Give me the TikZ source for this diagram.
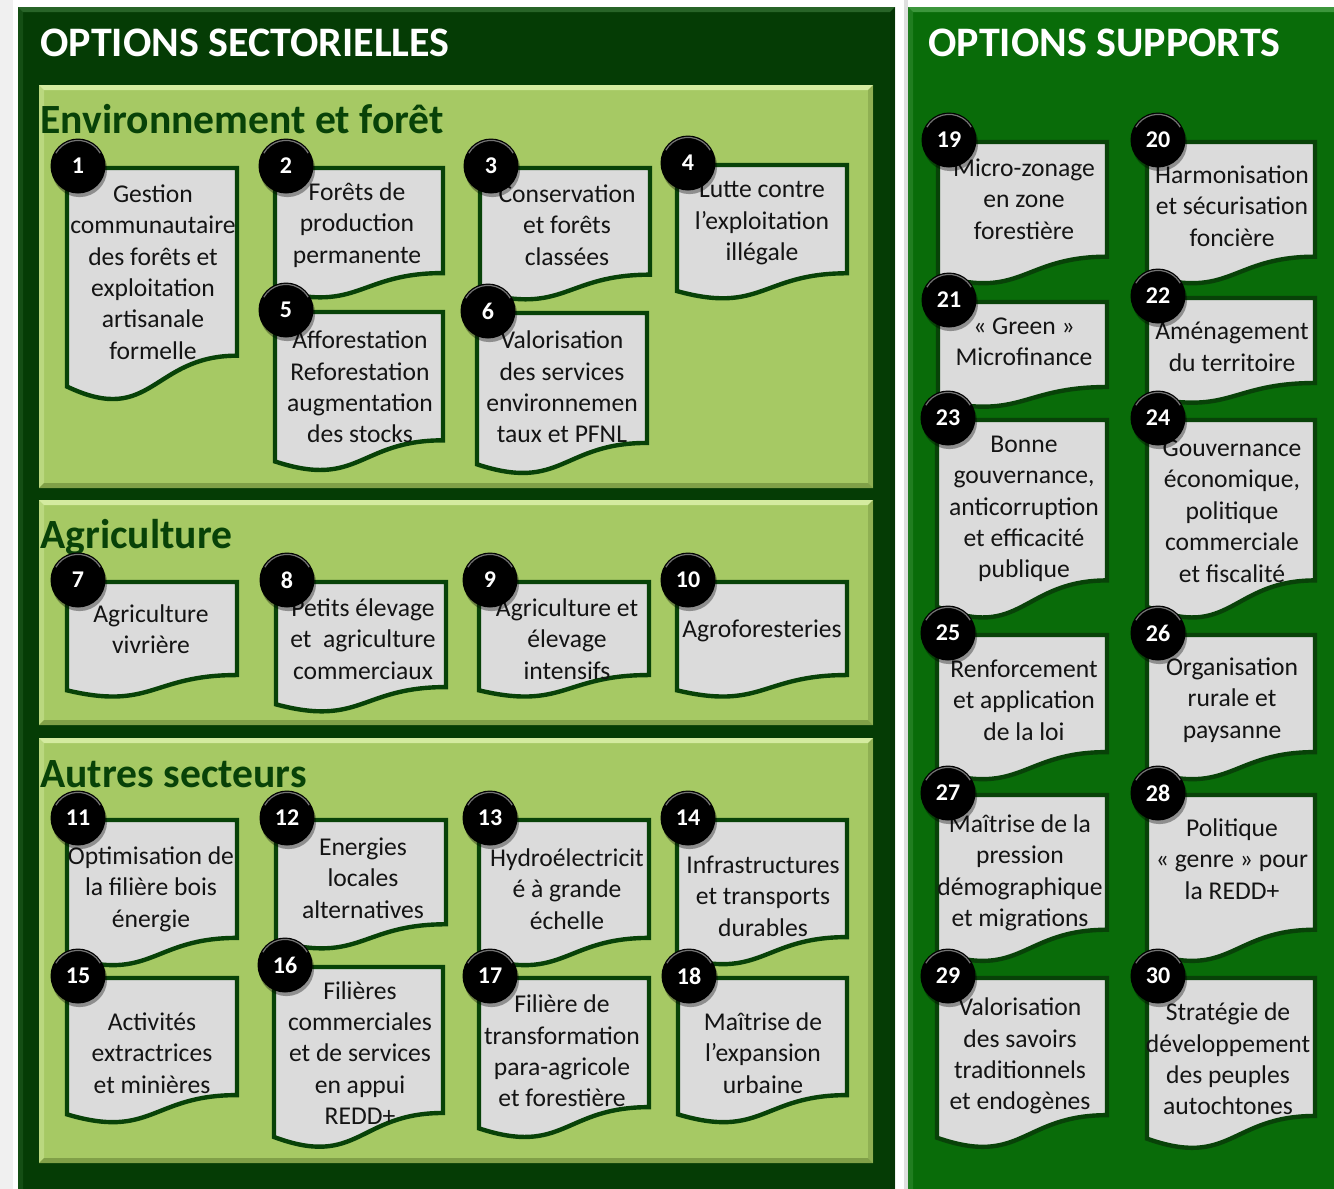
\documentclass[tikz,border=0pt]{standalone}
\usepackage{fontspec}
\setmainfont{Carlito}
\usetikzlibrary{calc}
\definecolor{darkpanel}{RGB}{5,60,5}
\definecolor{darkpanelhi}{RGB}{40,100,40}
\definecolor{greenpanel}{RGB}{9,108,9}
\definecolor{greenpanelhi}{RGB}{60,150,60}
\definecolor{lightpanel}{RGB}{166,201,100}
\definecolor{lightpanelhi}{RGB}{212,235,160}
\definecolor{lightpanello}{RGB}{128,160,72}
\definecolor{docfill}{RGB}{219,219,219}
\definecolor{docline}{RGB}{8,66,8}
\definecolor{titlegreen}{RGB}{8,66,8}
\definecolor{doctextcol}{RGB}{20,20,20}
\tikzset{
  docshape/.style={fill=docfill, draw=docline, line width=2.2pt, line join=miter},
  doctext/.style={align=center, inner sep=0pt, text=doctextcol, yshift=-1pt,
    font=\fontsize{12.8pt}{15.7pt}\selectfont},
  badge/.style={circle, fill=black, minimum size=27.5pt, inner sep=0pt, text=white,
    font=\bfseries\fontsize{12pt}{14pt}\selectfont},
  badgeshadow/.style={fill=black, opacity=0.35},
  maintitle/.style={anchor=base west, inner sep=0pt, text=white,
    font=\bfseries\fontsize{21pt}{25pt}\selectfont},
  sectitle/.style={anchor=base west, inner sep=0pt, text=titlegreen,
    font=\bfseries\fontsize{20.8pt}{25pt}\selectfont},
}
% bevelled panel: x0,y0,x1,y1,fill,light,dark,bevel
\newcommand{\bevelpanel}[8]{%
  \fill[#5] (#1,#2) rectangle (#3,#4);
  \fill[#6] (#1,#2) -- (#3,#2) -- ({#3-#8},{#2+#8}) -- ({#1+#8},{#2+#8}) -- cycle;
  \fill[#6,opacity=.45] (#1,#2) -- ({#1+#8},{#2+#8}) -- ({#1+#8},{#4-#8}) -- (#1,#4) -- cycle;
  \fill[#7] (#1,#4) -- ({#1+#8},{#4-#8}) -- ({#3-#8},{#4-#8}) -- (#3,#4) -- cycle;
  \fill[#7,opacity=.6] (#3,#2) -- ({#3-#8},{#2+#8}) -- ({#3-#8},{#4-#8}) -- (#3,#4) -- cycle;
}
% document: id, x0, x1, top, h, text x, text y, text
\newcommand{\docbox}[8]{%
  \pgfmathsetmacro{\dyr}{#4+0.802*#5}%
  \pgfmathsetmacro{\dyl}{#4+0.934*#5}%
  \pgfmathsetmacro{\dyc}{#4+1.1075*#5}%
  \pgfmathsetmacro{\dxm}{(#2+#3)/2}%
  \draw[docshape] (#2,#4) -- (#3,#4) -- (#3,\dyr) .. controls (\dxm,\dyr) and (\dxm,\dyc) .. (#2,\dyl) -- cycle;
  \node[doctext] (t#1) at (#6,#7) {#8};
  \fill[badgeshadow] ({#2+12.5},{#4+1.5}) circle (13.8pt);
  \node[badge] (b#1) at ({#2+11},{#4-2}) {#1};
  \draw[gray!70, line width=0.6pt, opacity=.7] ($(b#1.center)+(150:12.8pt)$) arc (150:30:12.8pt);
}
\begin{document}
\begin{tikzpicture}[x=0.5pt, y=-0.5pt]
\useasboundingbox (0,0) rectangle (1334,1189);
\fill[white] (0,0) rectangle (1334,1189);
\fill[gray!12] (0,0) rectangle (13,1189);
\fill[gray!25] (904,0) rectangle (908,1189);
% outer panels
\bevelpanel{18}{7}{895}{1200}{darkpanel}{darkpanelhi}{darkpanel!80!black}{5}
\bevelpanel{908}{7}{1340}{1200}{greenpanel}{greenpanelhi}{greenpanel!80!black}{5}
\node[maintitle] (titleL) at (40,56) {OPTIONS SECTORIELLES};
\node[maintitle] (titleR) at (928,56) {OPTIONS SUPPORTS};
% inner panels
\bevelpanel{39}{85}{873}{488}{lightpanel}{lightpanelhi}{lightpanello}{5}
\bevelpanel{39}{500}{873}{725}{lightpanel}{lightpanelhi}{lightpanello}{5}
\bevelpanel{39}{738}{873}{1163}{lightpanel}{lightpanelhi}{lightpanello}{5}
\node[sectitle] (secEnv) at (40,133) {Environnement et forêt};
\node[sectitle] (secAgri) at (40,548) {Agriculture};
\node[sectitle] (secAutres) at (40,787) {Autres secteurs};
% documents
\docbox{1}{67}{237}{168}{234}{153}{270}{Gestion\\communautaire\\des forêts et\\exploitation\\artisanale\\formelle}
\docbox{2}{275}{443}{168}{131}{357}{223}{Forêts de\\production\\permanente}
\docbox{3}{480}{650}{168}{133}{567}{223}{Conservation\\et forêts\\classées}
\docbox{4}{677}{847}{165}{135}{762}{221}{Lutte contre\\l’exploitation\\illégale}
\docbox{5}{275}{443}{312}{160}{360}{385}{Afforestation\\Reforestation\\augmentation\\des stocks}
\docbox{6}{477}{647}{313}{162}{562}{385}{Valorisation\\des services\\environnemen\\taux et PFNL}
\docbox{7}{67}{237}{582}{116}{151}{627}{Agriculture\\vivrière}
\docbox{8}{276}{446}{582}{131}{363}{637}{Petits élevage\\et\ \ agriculture\\commerciaux}
\docbox{9}{479}{649}{582}{116}{567}{637}{Agriculture et\\élevage\\intensifs}
\docbox{10}{677}{847}{582}{116}{762}{629}{Agroforesteries}
\docbox{11}{67}{237}{820}{147}{151}{887}{Optimisation de\\la filière bois\\énergie}
\docbox{12}{276}{446}{820}{130}{363}{876}{Energies\\locales\\alternatives}
\docbox{13}{479}{649}{820}{147}{567}{887}{Hydroélectricit\\é à grande\\échelle}
\docbox{14}{677}{847}{820}{146}{763}{894}{Infrastructures\\et transports\\durables}
\docbox{15}{67}{237}{978}{146}{152}{1051}{Activités\\extractrices\\et minières}
\docbox{16}{274}{443}{967}{182}{360}{1051}{Filières\\commerciales\\et de services\\en appui\\REDD+}
\docbox{17}{479}{649}{978}{161}{562}{1049}{Filière de\\transformation\\para-agricole\\et forestière}
\docbox{18}{678}{847}{978}{146}{763}{1051}{Maîtrise de\\l’expansion\\urbaine}
\docbox{19}{938}{1107}{142}{143}{1024}{197}{Micro-zonage\\en zone\\forestière}
\docbox{20}{1147}{1315}{142}{143}{1232}{204}{Harmonisation\\et sécurisation\\foncière}
\docbox{21}{938}{1107}{302}{106}{1024}{340}{«~Green~»\\Microfinance}
\docbox{22}{1147}{1315}{298}{106}{1232}{345}{Aménagement\\du territoire}
\docbox{23}{937}{1107}{420}{200}{1024}{507}{Bonne\\gouvernance,\\anticorruption\\et efficacité\\publique}
\docbox{24}{1147}{1315}{420}{200}{1232}{509}{Gouvernance\\économique,\\politique\\commerciale\\et fiscalité}
\docbox{25}{937}{1107}{635}{146}{1024}{698}{Renforcement\\et application\\de la loi}
\docbox{26}{1147}{1315}{635}{146}{1232}{698}{Organisation\\rurale et\\paysanne}
\docbox{27}{937}{1107}{795}{168}{1020}{871}{Maîtrise de la\\pression\\démographique\\et migrations}
\docbox{28}{1147}{1315}{795}{168}{1232}{857}{Politique\\«~genre~» pour\\la REDD+}
\docbox{29}{937}{1107}{978}{171}{1020}{1054}{Valorisation\\des savoirs\\traditionnels\\et endogènes}
\docbox{30}{1147}{1315}{978}{172}{1228}{1057}{Stratégie de\\développement\\des peuples\\autochtones}
\end{tikzpicture}
\end{document}
